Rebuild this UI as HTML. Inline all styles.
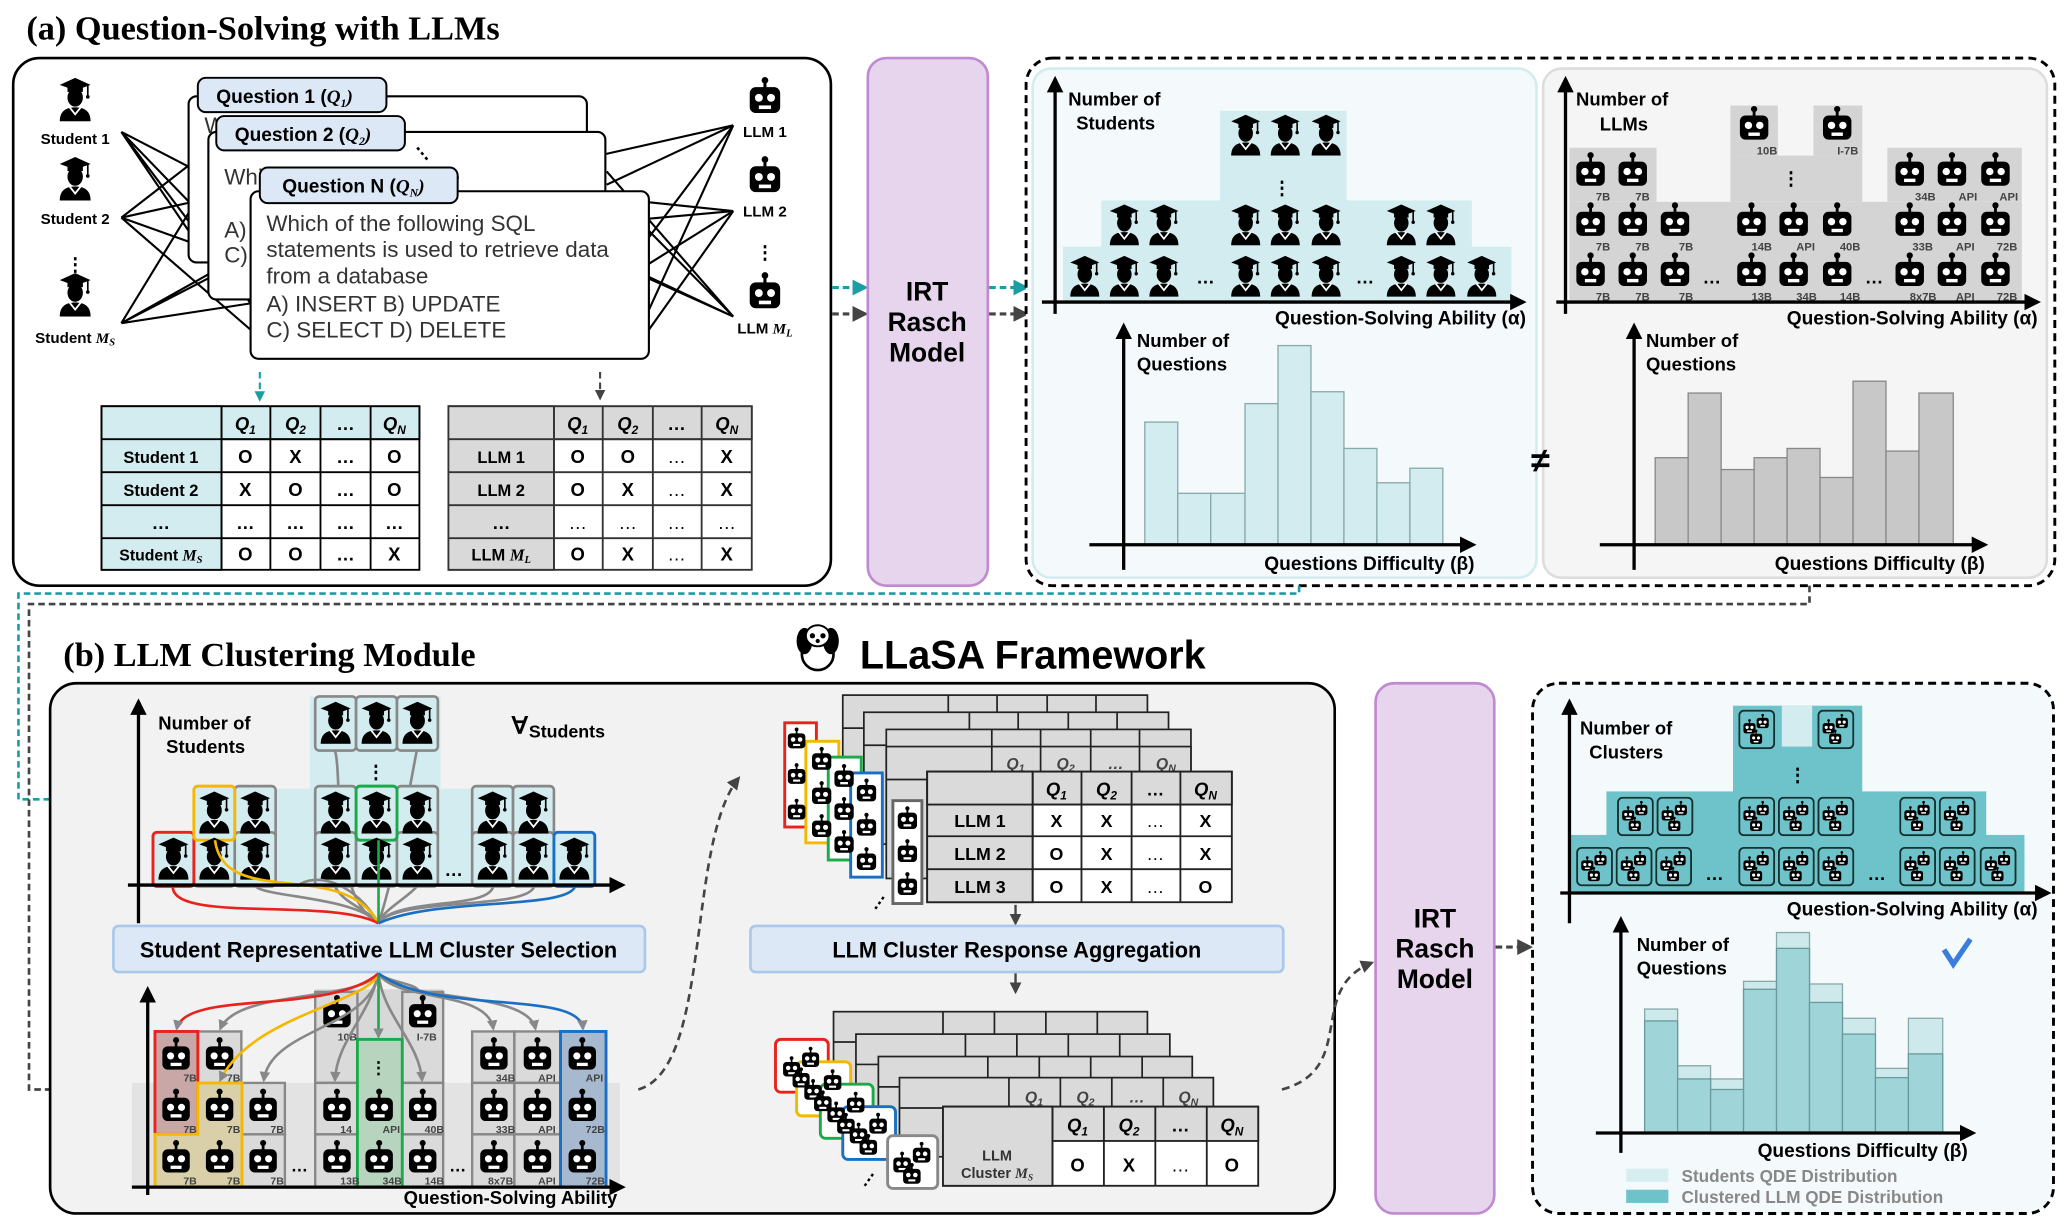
<!DOCTYPE html>
<html><head><meta charset="utf-8"><style>
html,body{margin:0;padding:0;background:#fff}
svg{display:block}
text{font-family:"Liberation Sans",sans-serif}
.b{font-weight:bold}
.sr{font-family:"Liberation Serif",serif;font-weight:bold}
.m{font-family:"Liberation Serif",serif;font-style:italic;font-weight:bold}
</style></head><body>
<svg width="2068" height="1228" viewBox="0 0 1568 931" preserveAspectRatio="none" xmlns="http://www.w3.org/2000/svg">
<defs>
<symbol id="rb" viewBox="0 0 24 26"><circle cx="12" cy="2.5" r="2.2"/><rect x="11" y="3" width="2" height="5"/><rect x="2" y="7" width="20" height="17" rx="4"/><circle cx="8" cy="14" r="2.6" fill="#fff"/><circle cx="16" cy="14" r="2.6" fill="#fff"/><rect x="8" y="19" width="8" height="2.4" fill="#fff"/></symbol>
<symbol id="st" viewBox="0 0 24 32"><polygon points="1,6 12,1 23,6 12,10"/><rect x="6.5" y="7" width="11" height="4"/><line x1="21" y1="6" x2="21" y2="14" stroke="#000" stroke-width="1.2"/><circle cx="21" cy="14.5" r="1.3"/><ellipse cx="12" cy="15" rx="5.5" ry="6.5"/><path d="M1 32 C1 25 5 22 12 22 C19 22 23 25 23 32Z"/><polyline points="8,22 12,27 16,22" fill="none" stroke="#fff" stroke-width="1.3"/></symbol>
<symbol id="cl" viewBox="0 0 28 30"><rect x="0.8" y="0.8" width="26.4" height="28.4" rx="3.5" fill="#6ec3ca" stroke="#13312f" stroke-width="1.4"/><use href="#rb" x="3" y="7" width="11" height="12"/><use href="#rb" x="13" y="3" width="11" height="12"/><use href="#rb" x="8" y="15" width="11" height="12"/></symbol>
<symbol id="cw" viewBox="0 0 28 30"><use href="#rb" x="1" y="8" width="13" height="14"/><use href="#rb" x="13" y="2" width="13" height="14"/><use href="#rb" x="7" y="15" width="13" height="14"/></symbol>
<marker id="at" viewBox="0 0 10 10" refX="8" refY="5" markerWidth="5" markerHeight="5" orient="auto"><path d="M0 0L10 5L0 10z" fill="#1a9ea3"/></marker>
<marker id="ag" viewBox="0 0 10 10" refX="8" refY="5" markerWidth="5" markerHeight="5" orient="auto"><path d="M0 0L10 5L0 10z" fill="#444"/></marker>
<marker id="ak" viewBox="0 0 10 10" refX="8" refY="5" markerWidth="5" markerHeight="5" orient="auto"><path d="M0 0L10 5L0 10z" fill="#000"/></marker>
<marker id="ay" viewBox="0 0 10 10" refX="8" refY="5" markerWidth="4" markerHeight="4" orient="auto"><path d="M0 0L10 5L0 10z" fill="#888"/></marker>
</defs>

<!-- ================= (a) ================= -->
<text x="20" y="30" class="sr" font-size="26">(a) Question-Solving with LLMs</text>
<rect x="10" y="44" width="620" height="400" rx="20" fill="#fff" stroke="#000" stroke-width="2"/>

<!-- crossing lines -->
<g stroke="#000" stroke-width="1.6" fill="none">
<path d="M92 100L150 160M92 100L190 230M92 100L160 200M92 100L150 130"/>
<path d="M92 165L150 120M92 165L190 200M92 165L160 150M92 165L190 250"/>
<path d="M92 245L150 150M92 245L190 190M92 245L160 210M92 245L190 230"/>
<path d="M556 95L460 140M556 95L492 180M556 95L445 120M556 95L492 235"/>
<path d="M556 160L460 150M556 160L492 200M556 160L445 170M556 160L492 250"/>
<path d="M556 240L460 130M556 240L492 210M556 240L445 190M556 240L492 175"/>
</g>

<use href="#st" x="44" y="58" width="26" height="34"/>
<text x="57" y="109" class="b" font-size="11.5" text-anchor="middle">Student 1</text>
<use href="#st" x="44" y="118" width="26" height="34"/>
<text x="57" y="170" class="b" font-size="11.5" text-anchor="middle">Student 2</text>
<text x="57" y="205" class="b" font-size="14" text-anchor="middle">⋮</text>
<use href="#st" x="44" y="206" width="26" height="34"/>
<text x="57" y="260" class="b" font-size="11.5" text-anchor="middle">Student <tspan class="m">M<tspan font-size="8" dy="2">S</tspan></tspan></text>

<use href="#rb" x="566" y="58" width="28" height="30"/>
<text x="580" y="104" class="b" font-size="11.5" text-anchor="middle">LLM 1</text>
<use href="#rb" x="566" y="118" width="28" height="30"/>
<text x="580" y="164" class="b" font-size="11.5" text-anchor="middle">LLM 2</text>
<text x="580" y="196" class="b" font-size="14" text-anchor="middle">⋮</text>
<use href="#rb" x="566" y="206" width="28" height="30"/>
<text x="580" y="253" class="b" font-size="11.5" text-anchor="middle">LLM <tspan class="m">M<tspan font-size="8" dy="2">L</tspan></tspan></text>

<!-- cards -->
<rect x="143" y="73" width="302" height="126" rx="6" fill="#fff" stroke="#000" stroke-width="1.6"/>
<text x="155" y="101" font-size="17" fill="#333">Which DataBase</text>
<rect x="158" y="100" width="301" height="127" rx="6" fill="#fff" stroke="#000" stroke-width="1.6"/>
<text x="170" y="140" font-size="17" fill="#333">Which of the SQL in the</text>
<text x="170" y="180" font-size="17" fill="#333">A)</text>
<text x="170" y="199" font-size="17" fill="#333">C)</text>
<rect x="190" y="145" width="302" height="127" rx="6" fill="#fff" stroke="#000" stroke-width="1.6"/>
<text font-size="17" fill="#333"><tspan x="202" y="175">Which of the following SQL</tspan><tspan x="202" y="195">statements is used to retrieve data</tspan><tspan x="202" y="215">from a database</tspan><tspan x="202" y="236">A)  INSERT  B) UPDATE</tspan><tspan x="202" y="256">C) SELECT  D) DELETE</tspan></text>
<rect x="150" y="59" width="143" height="26" rx="6" fill="#dce8f5" stroke="#000" stroke-width="1.5"/>
<text x="164" y="78" class="b" font-size="14.5">Question 1 (<tspan class="m">Q<tspan font-size="9" dy="3">1</tspan><tspan dy="-3">)</tspan></tspan></text>
<rect x="164" y="88" width="143" height="26" rx="6" fill="#dce8f5" stroke="#000" stroke-width="1.5"/>
<text x="178" y="107" class="b" font-size="14.5">Question 2 (<tspan class="m">Q<tspan font-size="9" dy="3">2</tspan><tspan dy="-3">)</tspan></tspan></text>
<text x="315" y="123" font-size="14" class="b" transform="rotate(-40 318 120)">⋮</text>
<rect x="197" y="127" width="150" height="27" rx="6" fill="#dce8f5" stroke="#000" stroke-width="1.5"/>
<text x="214" y="146" class="b" font-size="14.5">Question N (<tspan class="m">Q<tspan font-size="9" dy="3">N</tspan><tspan dy="-3">)</tspan></tspan></text>

<line x1="197" y1="282" x2="197" y2="303" stroke="#1a9ea3" stroke-width="1.6" stroke-dasharray="5,3" marker-end="url(#at)"/>
<line x1="455" y1="282" x2="455" y2="302" stroke="#444" stroke-width="1.6" stroke-dasharray="5,3" marker-end="url(#ag)"/>

<!-- student table -->
<g stroke="#000" stroke-width="1.4">
<rect x="77" y="308" width="241" height="124" fill="#fff"/>
<rect x="77" y="308" width="241" height="25" fill="#d2ecef"/>
<rect x="77" y="308" width="91" height="124" fill="#d2ecef"/>
<path d="M168 308V432M205 308V432M243 308V432M281 308V432M77 333H318M77 358H318M77 383H318M77 408H318"/>
</g>
<g class="m" font-size="14" text-anchor="middle"><text x="186" y="326">Q<tspan font-size="9" dy="3">1</tspan></text><text x="224" y="326">Q<tspan font-size="9" dy="3">2</tspan></text><text x="299" y="326">Q<tspan font-size="9" dy="3">N</tspan></text></g>
<g font-size="14" text-anchor="middle" class="b">
<text x="262" y="326">…</text>
<text x="122" y="351" font-size="12.5">Student 1</text><text x="186" y="351">O</text><text x="224" y="351">X</text><text x="262" y="351">…</text><text x="299" y="351">O</text>
<text x="122" y="376" font-size="12.5">Student 2</text><text x="186" y="376">X</text><text x="224" y="376">O</text><text x="262" y="376">…</text><text x="299" y="376">O</text>
<text x="122" y="401">…</text><text x="186" y="401">…</text><text x="224" y="401">…</text><text x="262" y="401">…</text><text x="299" y="401">…</text>
<text x="122" y="425" font-size="12">Student <tspan class="m">M<tspan font-size="8" dy="2">S</tspan></tspan></text><text x="186" y="425">O</text><text x="224" y="425">O</text><text x="262" y="425">…</text><text x="299" y="425">X</text>
</g>
<!-- llm table -->
<g stroke="#333" stroke-width="1.4">
<rect x="340" y="308" width="230" height="124" fill="#fff"/>
<rect x="340" y="308" width="230" height="25" fill="#d9d9d9"/>
<rect x="340" y="308" width="80" height="124" fill="#d9d9d9"/>
<path d="M420 308V432M457 308V432M495 308V432M532 308V432M340 333H570M340 358H570M340 383H570M340 408H570"/>
</g>
<g class="m" font-size="14" text-anchor="middle"><text x="438" y="326">Q<tspan font-size="9" dy="3">1</tspan></text><text x="476" y="326">Q<tspan font-size="9" dy="3">2</tspan></text><text x="551" y="326">Q<tspan font-size="9" dy="3">N</tspan></text></g>
<g font-size="14" text-anchor="middle" class="b">
<text x="513" y="326">…</text>
<text x="380" y="351" font-size="12.5">LLM 1</text><text x="438" y="351">O</text><text x="476" y="351">O</text><text x="513" y="351" font-weight="normal">…</text><text x="551" y="351">X</text>
<text x="380" y="376" font-size="12.5">LLM 2</text><text x="438" y="376">O</text><text x="476" y="376">X</text><text x="513" y="376" font-weight="normal">…</text><text x="551" y="376">X</text>
<text x="380" y="401">…</text><text x="438" y="401" font-weight="normal">…</text><text x="476" y="401" font-weight="normal">…</text><text x="513" y="401" font-weight="normal">…</text><text x="551" y="401" font-weight="normal">…</text>
<text x="380" y="425" font-size="12.5">LLM <tspan class="m">M<tspan font-size="8" dy="2">L</tspan></tspan></text><text x="438" y="425">O</text><text x="476" y="425">X</text><text x="513" y="425" font-weight="normal">…</text><text x="551" y="425">X</text>
</g>

<!-- IRT 1 -->
<line x1="631" y1="218" x2="656" y2="218" stroke="#1a9ea3" stroke-width="2.4" stroke-dasharray="5,3" marker-end="url(#at)"/>
<line x1="631" y1="238" x2="656" y2="238" stroke="#444" stroke-width="2.4" stroke-dasharray="5,3" marker-end="url(#ag)"/>
<rect x="658" y="44" width="91" height="400" rx="14" fill="#e6d5ec" stroke="#c08ad0" stroke-width="2"/>
<text x="703" y="228" class="b" font-size="20" text-anchor="middle">IRT</text>
<text x="703" y="251" class="b" font-size="20" text-anchor="middle">Rasch</text>
<text x="703" y="274" class="b" font-size="20" text-anchor="middle">Model</text>
<line x1="750" y1="218" x2="778" y2="218" stroke="#1a9ea3" stroke-width="2.4" stroke-dasharray="5,3" marker-end="url(#at)"/>
<line x1="750" y1="238" x2="778" y2="238" stroke="#444" stroke-width="2.4" stroke-dasharray="5,3" marker-end="url(#ag)"/>

<!-- right dashed panel -->
<rect x="778" y="44" width="780" height="400" rx="20" fill="#fff" stroke="#000" stroke-width="2.2" stroke-dasharray="6,4"/>
<rect x="783" y="52" width="382" height="386" rx="14" fill="#f4fafb" stroke="#d2ecef" stroke-width="2"/>
<rect x="1170" y="52" width="382" height="386" rx="14" fill="#f5f5f5" stroke="#ddd" stroke-width="2"/>

<!-- students hist -->
<rect x="925" y="84" width="96" height="70" fill="#d2ecef"/>
<rect x="835" y="152" width="281" height="36" fill="#d2ecef"/>
<rect x="806" y="187" width="340" height="42" fill="#d2ecef"/>
<g>
<use href="#st" x="932" y="86" width="25" height="32"/><use href="#st" x="962" y="86" width="25" height="32"/><use href="#st" x="993" y="86" width="25" height="32"/>
<use href="#st" x="840" y="154" width="25" height="32"/><use href="#st" x="870" y="154" width="25" height="32"/>
<use href="#st" x="932" y="154" width="25" height="32"/><use href="#st" x="962" y="154" width="25" height="32"/><use href="#st" x="993" y="154" width="25" height="32"/>
<use href="#st" x="1050" y="154" width="25" height="32"/><use href="#st" x="1080" y="154" width="25" height="32"/>
<use href="#st" x="810" y="193" width="25" height="32"/><use href="#st" x="840" y="193" width="25" height="32"/><use href="#st" x="870" y="193" width="25" height="32"/>
<use href="#st" x="932" y="193" width="25" height="32"/><use href="#st" x="962" y="193" width="25" height="32"/><use href="#st" x="993" y="193" width="25" height="32"/>
<use href="#st" x="1050" y="193" width="25" height="32"/><use href="#st" x="1080" y="193" width="25" height="32"/><use href="#st" x="1111" y="193" width="25" height="32"/>
</g>
<text x="972" y="147" class="b" font-size="14" text-anchor="middle">⋮</text>
<text x="914" y="215" class="b" font-size="14" text-anchor="middle">…</text>
<text x="1035" y="215" class="b" font-size="14" text-anchor="middle">…</text>
<line x1="800" y1="238" x2="800" y2="60" stroke="#000" stroke-width="2.5" marker-end="url(#ak)"/>
<line x1="790" y1="229" x2="1155" y2="229" stroke="#000" stroke-width="2.5" marker-end="url(#ak)"/>
<text x="810" y="80" class="b" font-size="14">Number of</text><text x="816" y="98" class="b" font-size="14">Students</text>
<text x="1157" y="246" class="b" font-size="14.5" text-anchor="end">Question-Solving Ability (α)</text>

<g fill="#d2ecef" stroke="#8aa" stroke-width="1">
<rect x="868" y="320" width="25" height="93"/><rect x="893" y="374" width="25" height="39"/><rect x="918" y="374" width="26" height="39"/><rect x="944" y="306" width="25" height="107"/><rect x="969" y="262" width="25" height="151"/><rect x="994" y="297" width="25" height="116"/><rect x="1019" y="340" width="25" height="73"/><rect x="1044" y="366" width="25" height="47"/><rect x="1069" y="355" width="25" height="58"/>
</g>
<line x1="852" y1="432" x2="852" y2="247" stroke="#000" stroke-width="2.5" marker-end="url(#ak)"/>
<line x1="826" y1="413" x2="1117" y2="413" stroke="#000" stroke-width="2.5" marker-end="url(#ak)"/>
<text x="862" y="263" class="b" font-size="14">Number of</text><text x="862" y="281" class="b" font-size="14">Questions</text>
<text x="1118" y="432" class="b" font-size="14.5" text-anchor="end">Questions Difficulty (β)</text>

<text x="1168" y="358" class="b" font-size="26" text-anchor="middle">≠</text>

<!-- LLM hist -->
<g fill="#d4d4d4">
<rect x="1190" y="153" width="343" height="76"/><rect x="1190" y="112" width="66" height="41"/><rect x="1431" y="112" width="102" height="41"/>
<rect x="1312" y="118" width="100" height="35"/><rect x="1312" y="80" width="36" height="38"/><rect x="1375" y="80" width="37" height="38"/>
</g>
<g>
<use href="#rb" x="1317" y="80" width="26" height="28"/><use href="#rb" x="1380" y="80" width="26" height="28"/>
<use href="#rb" x="1193" y="115" width="26" height="28"/><use href="#rb" x="1225" y="115" width="26" height="28"/>
<use href="#rb" x="1435" y="115" width="26" height="28"/><use href="#rb" x="1467" y="115" width="26" height="28"/><use href="#rb" x="1500" y="115" width="26" height="28"/>
<use href="#rb" x="1193" y="153" width="26" height="28"/><use href="#rb" x="1225" y="153" width="26" height="28"/><use href="#rb" x="1257" y="153" width="26" height="28"/>
<use href="#rb" x="1315" y="153" width="26" height="28"/><use href="#rb" x="1347" y="153" width="26" height="28"/><use href="#rb" x="1380" y="153" width="26" height="28"/>
<use href="#rb" x="1435" y="153" width="26" height="28"/><use href="#rb" x="1467" y="153" width="26" height="28"/><use href="#rb" x="1500" y="153" width="26" height="28"/>
<use href="#rb" x="1193" y="191" width="26" height="28"/><use href="#rb" x="1225" y="191" width="26" height="28"/><use href="#rb" x="1257" y="191" width="26" height="28"/>
<use href="#rb" x="1315" y="191" width="26" height="28"/><use href="#rb" x="1347" y="191" width="26" height="28"/><use href="#rb" x="1380" y="191" width="26" height="28"/>
<use href="#rb" x="1435" y="191" width="26" height="28"/><use href="#rb" x="1467" y="191" width="26" height="28"/><use href="#rb" x="1500" y="191" width="26" height="28"/>
</g>
<g class="b" font-size="8.5" fill="#444">
<text x="1332" y="117">10B</text><text x="1393" y="117">I-7B</text>
<text x="1210" y="152">7B</text><text x="1240" y="152">7B</text><text x="1452" y="152">34B</text><text x="1485" y="152">API</text><text x="1516" y="152">API</text>
<text x="1210" y="190">7B</text><text x="1240" y="190">7B</text><text x="1273" y="190">7B</text><text x="1328" y="190">14B</text><text x="1362" y="190">API</text><text x="1395" y="190">40B</text><text x="1450" y="190">33B</text><text x="1483" y="190">API</text><text x="1514" y="190">72B</text>
<text x="1210" y="228">7B</text><text x="1240" y="228">7B</text><text x="1273" y="228">7B</text><text x="1328" y="228">13B</text><text x="1362" y="228">34B</text><text x="1395" y="228">14B</text><text x="1448" y="228">8x7B</text><text x="1483" y="228">API</text><text x="1514" y="228">72B</text>
</g>
<text x="1358" y="140" class="b" font-size="14" text-anchor="middle">⋮</text>
<text x="1298" y="215" class="b" font-size="14" text-anchor="middle">…</text>
<text x="1421" y="215" class="b" font-size="14" text-anchor="middle">…</text>
<line x1="1187" y1="238" x2="1187" y2="60" stroke="#000" stroke-width="2.5" marker-end="url(#ak)"/>
<line x1="1180" y1="229" x2="1545" y2="229" stroke="#000" stroke-width="2.5" marker-end="url(#ak)"/>
<text x="1195" y="80" class="b" font-size="14">Number of</text><text x="1213" y="99" class="b" font-size="14">LLMs</text>
<text x="1545" y="246" class="b" font-size="14.5" text-anchor="end">Question-Solving Ability (α)</text>

<g fill="#c8c8c8" stroke="#888" stroke-width="1">
<rect x="1255" y="347" width="25" height="66"/><rect x="1280" y="298" width="25" height="115"/><rect x="1305" y="356" width="25" height="57"/><rect x="1330" y="347" width="25" height="66"/><rect x="1355" y="340" width="25" height="73"/><rect x="1380" y="362" width="25" height="51"/><rect x="1405" y="289" width="25" height="124"/><rect x="1430" y="342" width="25" height="71"/><rect x="1455" y="298" width="26" height="115"/>
</g>
<line x1="1239" y1="432" x2="1239" y2="247" stroke="#000" stroke-width="2.5" marker-end="url(#ak)"/>
<line x1="1213" y1="413" x2="1505" y2="413" stroke="#000" stroke-width="2.5" marker-end="url(#ak)"/>
<text x="1248" y="263" class="b" font-size="14">Number of</text><text x="1248" y="281" class="b" font-size="14">Questions</text>
<text x="1505" y="432" class="b" font-size="14.5" text-anchor="end">Questions Difficulty (β)</text>

<!-- connectors a→b -->
<path d="M985 444V450H14V606H76" fill="none" stroke="#1a9ea3" stroke-width="2" stroke-dasharray="5,3" marker-end="url(#at)"/>
<path d="M1372 444V458H22V826H78" fill="none" stroke="#444" stroke-width="2" stroke-dasharray="5,3" marker-end="url(#ag)"/>

<!-- ================= (b) ================= -->
<text x="48" y="505" class="sr" font-size="26">(b) LLM Clustering Module</text>
<g transform="translate(604,472)">
<ellipse cx="16" cy="24" rx="12" ry="12" fill="#fff" stroke="#000" stroke-width="2"/>
<ellipse cx="6" cy="14" rx="6" ry="10" fill="#000"/><ellipse cx="26" cy="14" rx="6" ry="10" fill="#000"/>
<ellipse cx="16" cy="10" rx="9" ry="8" fill="#fff" stroke="#000" stroke-width="1.5"/>
<circle cx="12" cy="10" r="2"/><circle cx="20" cy="10" r="2"/><circle cx="16" cy="14" r="1.6"/>
</g>
<text x="652" y="507" class="b" font-size="30">LLaSA Framework</text>

<rect x="38" y="518" width="974" height="402" rx="20" fill="#f2f2f2" stroke="#000" stroke-width="2"/>

<!-- top student chart b -->
<rect x="235" y="528" width="99" height="143" fill="#d2ecef"/>
<rect x="147" y="598" width="273" height="73" fill="#d2ecef"/>
<g fill="none" stroke-width="2">
<path d="M287 700C 250 680 260 590 254 569" stroke="#888"/>
<path d="M287 700C 300 660 310 600 316 569" stroke="#888"/>
</g>
<g fill="#d2ecef" stroke="#888" stroke-width="2">
<rect x="239" y="528" width="31" height="41" rx="3"/><rect x="270" y="528" width="31" height="41" rx="3"/><rect x="301" y="528" width="31" height="41" rx="3"/>
<rect x="178" y="596" width="31" height="41" rx="3"/>
<rect x="239" y="596" width="31" height="41" rx="3"/><rect x="301" y="596" width="31" height="41" rx="3"/>
<rect x="358" y="596" width="31" height="41" rx="3"/><rect x="389" y="596" width="31" height="41" rx="3"/>
<rect x="147" y="631" width="31" height="41" rx="3"/><rect x="178" y="631" width="31" height="41" rx="3"/>
<rect x="239" y="631" width="31" height="41" rx="3"/><rect x="270" y="631" width="31" height="41" rx="3"/><rect x="301" y="631" width="31" height="41" rx="3"/>
<rect x="358" y="631" width="31" height="41" rx="3"/><rect x="389" y="631" width="31" height="41" rx="3"/>
</g>
<rect x="116" y="631" width="31" height="41" rx="3" fill="#d2ecef" stroke="#e8231d" stroke-width="2.2"/>
<rect x="147" y="596" width="31" height="41" rx="3" fill="#d2ecef" stroke="#f5b800" stroke-width="2.2"/>
<rect x="270" y="596" width="31" height="41" rx="3" fill="#d2ecef" stroke="#1aaa4a" stroke-width="2.2"/>
<rect x="420" y="631" width="31" height="41" rx="3" fill="#d2ecef" stroke="#1a6fc4" stroke-width="2.2"/>
<g>
<use href="#st" x="242" y="531" width="25" height="33"/><use href="#st" x="273" y="531" width="25" height="33"/><use href="#st" x="304" y="531" width="25" height="33"/>
<use href="#st" x="150" y="599" width="25" height="33"/><use href="#st" x="181" y="599" width="25" height="33"/>
<use href="#st" x="242" y="599" width="25" height="33"/><use href="#st" x="273" y="599" width="25" height="33"/><use href="#st" x="304" y="599" width="25" height="33"/>
<use href="#st" x="361" y="599" width="25" height="33"/><use href="#st" x="392" y="599" width="25" height="33"/>
<use href="#st" x="119" y="634" width="25" height="33"/><use href="#st" x="150" y="634" width="25" height="33"/><use href="#st" x="181" y="634" width="25" height="33"/>
<use href="#st" x="242" y="634" width="25" height="33"/><use href="#st" x="273" y="634" width="25" height="33"/><use href="#st" x="304" y="634" width="25" height="33"/>
<use href="#st" x="361" y="634" width="25" height="33"/><use href="#st" x="392" y="634" width="25" height="33"/><use href="#st" x="423" y="634" width="25" height="33"/>
</g>
<text x="285" y="590" class="b" font-size="14" text-anchor="middle">⋮</text>
<text x="344" y="664" class="b" font-size="14" text-anchor="middle">…</text>
<g fill="none" stroke-width="2">
<path d="M287 700C270 680 200 680 194 672" stroke="#888"/>
<path d="M287 700C280 690 260 685 254 672" stroke="#888"/>
<path d="M287 700C290 690 310 680 316 672" stroke="#888"/>
<path d="M287 700C300 680 370 690 374 672" stroke="#888"/>
<path d="M287 700C300 680 400 690 405 672" stroke="#888"/>
<path d="M287 700C270 670 240 660 225 672" stroke="#888"/>
<path d="M287 700C260 650 170 690 163 637" stroke="#f5b800"/>
<path d="M287 700C250 680 130 700 131 672" stroke="#e8231d"/>
<path d="M287 700V637" stroke="#1aaa4a"/>
<path d="M287 700C330 680 430 690 436 672" stroke="#1a6fc4"/>
</g>
<line x1="105" y1="700" x2="105" y2="532" stroke="#000" stroke-width="2.5" marker-end="url(#ak)"/>
<line x1="97" y1="671" x2="472" y2="671" stroke="#000" stroke-width="2.5" marker-end="url(#ak)"/>
<text x="120" y="553" class="b" font-size="14">Number of</text><text x="126" y="571" class="b" font-size="14">Students</text>
<text x="388" y="556" class="b" font-size="18">∀</text><text x="401" y="559" class="b" font-size="13.5">Students</text>

<rect x="86" y="702" width="403" height="35" rx="4" fill="#dce8f5" stroke="#a9c8ea" stroke-width="2"/>
<text x="287" y="726" class="b" font-size="16.5" text-anchor="middle">Student Representative LLM Cluster Selection</text>

<!-- bottom llm chart b -->
<rect x="100" y="821" width="370" height="79" fill="#e3e3e3"/>
<rect x="239" y="750" width="97" height="150" fill="#d8d8d8"/>
<g fill="#dadada" stroke="#888" stroke-width="1.8">
<rect x="239" y="752" width="32" height="69"/><rect x="305" y="752" width="31" height="69"/>
<rect x="150" y="782" width="33" height="39"/>
<rect x="183" y="821" width="33" height="39"/><rect x="183" y="860" width="33" height="40"/>
<rect x="239" y="821" width="32" height="39"/><rect x="239" y="860" width="32" height="40"/>
<rect x="305" y="821" width="31" height="39"/><rect x="305" y="860" width="31" height="40"/>
<rect x="358" y="782" width="32" height="39"/><rect x="390" y="782" width="35" height="39"/>
<rect x="358" y="821" width="32" height="39"/><rect x="390" y="821" width="35" height="39"/>
<rect x="358" y="860" width="32" height="40"/><rect x="390" y="860" width="35" height="40"/>
</g>
<rect x="117.5" y="782" width="32.5" height="78" fill="#c9a7a7" stroke="#e8231d" stroke-width="2.2"/>
<path d="M150 821H183.5V900H117.5V860H150Z" fill="#d9cfa8" stroke="#f5b800" stroke-width="2.2"/>
<rect x="271" y="788" width="34" height="112" fill="#b7d4be" stroke="#1aaa4a" stroke-width="2.2"/>
<rect x="425" y="782" width="34.5" height="118" fill="#a7b9cf" stroke="#1a6fc4" stroke-width="2.2"/>
<g>
<use href="#rb" x="243" y="754" width="25" height="27"/><use href="#rb" x="308" y="754" width="25" height="27"/>
<use href="#rb" x="121" y="786" width="25" height="27"/><use href="#rb" x="154" y="786" width="25" height="27"/>
<use href="#rb" x="362" y="786" width="25" height="27"/><use href="#rb" x="395" y="786" width="25" height="27"/><use href="#rb" x="429" y="786" width="25" height="27"/>
<use href="#rb" x="121" y="825" width="25" height="27"/><use href="#rb" x="154" y="825" width="25" height="27"/><use href="#rb" x="187" y="825" width="25" height="27"/>
<use href="#rb" x="243" y="825" width="25" height="27"/><use href="#rb" x="275" y="825" width="25" height="27"/><use href="#rb" x="308" y="825" width="25" height="27"/>
<use href="#rb" x="362" y="825" width="25" height="27"/><use href="#rb" x="395" y="825" width="25" height="27"/><use href="#rb" x="429" y="825" width="25" height="27"/>
<use href="#rb" x="121" y="864" width="25" height="27"/><use href="#rb" x="154" y="864" width="25" height="27"/><use href="#rb" x="187" y="864" width="25" height="27"/>
<use href="#rb" x="243" y="864" width="25" height="27"/><use href="#rb" x="275" y="864" width="25" height="27"/><use href="#rb" x="308" y="864" width="25" height="27"/>
<use href="#rb" x="362" y="864" width="25" height="27"/><use href="#rb" x="395" y="864" width="25" height="27"/><use href="#rb" x="429" y="864" width="25" height="27"/>
</g>
<g class="b" font-size="8" fill="#444">
<text x="256" y="789">10B</text><text x="316" y="789">I-7B</text>
<text x="139" y="820">7B</text><text x="172" y="820">7B</text><text x="376" y="820">34B</text><text x="408" y="820">API</text><text x="444" y="820">API</text>
<text x="139" y="859">7B</text><text x="172" y="859">7B</text><text x="205" y="859">7B</text><text x="258" y="859">14</text><text x="290" y="859">API</text><text x="322" y="859">40B</text><text x="376" y="859">33B</text><text x="408" y="859">API</text><text x="444" y="859">72B</text>
<text x="139" y="898">7B</text><text x="172" y="898">7B</text><text x="205" y="898">7B</text><text x="258" y="898">13B</text><text x="290" y="898">34B</text><text x="322" y="898">14B</text><text x="370" y="898">8x7B</text><text x="408" y="898">API</text><text x="444" y="898">72B</text>
</g>
<text x="287" y="814" class="b" font-size="13" text-anchor="middle">⋮</text>
<text x="227" y="888" class="b" font-size="13" text-anchor="middle">…</text>
<text x="347" y="888" class="b" font-size="13" text-anchor="middle">…</text>
<g fill="none" stroke-width="2">
<path d="M287 738C270 760 180 750 167 780" stroke="#888" marker-end="url(#ay)"/>
<path d="M287 738C280 770 255 790 254 819" stroke="#888" marker-end="url(#ay)"/>
<path d="M287 738C290 770 318 790 320 819" stroke="#888" marker-end="url(#ay)"/>
<path d="M287 738C300 760 370 750 374 780" stroke="#888" marker-end="url(#ay)"/>
<path d="M287 738C300 760 400 750 406 780" stroke="#888" marker-end="url(#ay)"/>
<path d="M287 738C280 780 205 780 200 819" stroke="#888" marker-end="url(#ay)"/>
<path d="M287 738C295 745 315 745 318 752" stroke="#888"/>
<path d="M287 738C280 760 190 770 167 819" stroke="#f5b800" marker-end="url(#ay)"/>
<path d="M287 738C250 770 140 750 134 780" stroke="#e8231d" marker-end="url(#ay)"/>
<path d="M287 738V786" stroke="#1aaa4a" marker-end="url(#ay)"/>
<path d="M287 738C330 770 440 750 442 780" stroke="#1a6fc4" marker-end="url(#ay)"/>
</g>
<line x1="112" y1="906" x2="112" y2="750" stroke="#000" stroke-width="2.5" marker-end="url(#ak)"/>
<line x1="100" y1="900" x2="472" y2="900" stroke="#000" stroke-width="2.5" marker-end="url(#ak)"/>
<text x="468" y="913" class="b" font-size="14" text-anchor="end">Question-Solving Ability</text>

<!-- dashed curves -->
<path d="M484 826C540 810 520 640 560 590" fill="none" stroke="#444" stroke-width="2" stroke-dasharray="6,4" marker-end="url(#ag)"/>
<path d="M972 826C1030 810 990 750 1040 730" fill="none" stroke="#444" stroke-width="2" stroke-dasharray="6,4" marker-end="url(#ag)"/>

<!-- top table stack -->
<g stroke="#222" stroke-width="1.3" fill="#dadada">
<rect x="639" y="527" width="231" height="100"/><path d="M719 527V552M756 527V552M794 527V552M831 527V552M639 552H870"/>
<rect x="655" y="540" width="231" height="100"/><path d="M735 540V565M772 540V565M810 540V565M847 540V565M655 565H886"/>
<rect x="672" y="553" width="231" height="100"/><path d="M752 553V578M789 553V578M827 553V578M864 553V578M672 578H903"/>
<rect x="672" y="566" width="231" height="100"/><path d="M752 566V591M789 566V591M827 566V591M864 566V591M672 591H903"/>
</g>
<g class="m" font-size="12" fill="#444" text-anchor="middle"><text x="770" y="583">Q<tspan font-size="8" dy="2">1</tspan></text><text x="808" y="583">Q<tspan font-size="8" dy="2">2</tspan></text><text x="846" y="583">…</text><text x="884" y="583">Q<tspan font-size="8" dy="2">N</tspan></text></g>
<g stroke="#222" stroke-width="1.4">
<rect x="703" y="585" width="231" height="99" fill="#fff"/>
<rect x="703" y="585" width="231" height="25" fill="#dadada"/>
<rect x="703" y="585" width="80" height="99" fill="#dadada"/>
<path d="M783 585V684M820 585V684M858 585V684M895 585V684M703 610H934M703 634H934M703 659H934"/>
</g>
<g class="m" font-size="14" text-anchor="middle"><text x="801" y="603">Q<tspan font-size="9" dy="3">1</tspan></text><text x="839" y="603">Q<tspan font-size="9" dy="3">2</tspan></text><text x="914" y="603">Q<tspan font-size="9" dy="3">N</tspan></text></g>
<g class="b" font-size="13.5" text-anchor="middle">
<text x="876" y="603">…</text>
<text x="743" y="627">LLM 1</text><text x="801" y="627">X</text><text x="839" y="627">X</text><text x="876" y="627" font-weight="normal">…</text><text x="914" y="627">X</text>
<text x="743" y="652">LLM 2</text><text x="801" y="652">O</text><text x="839" y="652">X</text><text x="876" y="652" font-weight="normal">…</text><text x="914" y="652">X</text>
<text x="743" y="677">LLM 3</text><text x="801" y="677">O</text><text x="839" y="677">X</text><text x="876" y="677" font-weight="normal">…</text><text x="914" y="677">O</text>
</g>
<g fill="#fff" stroke-width="2.2">
<rect x="595" y="548" width="24" height="79" stroke="#e8231d"/>
<rect x="611" y="562" width="25" height="77" stroke="#f5b800"/>
<rect x="628" y="574" width="25" height="78" stroke="#1aaa4a"/>
<rect x="645" y="586" width="24" height="79" stroke="#1a6fc4"/>
<rect x="677" y="607" width="22" height="78" stroke="#666"/>
</g>
<g>
<use href="#rb" x="596" y="551" width="16" height="18"/><use href="#rb" x="596" y="578" width="16" height="18"/><use href="#rb" x="596" y="605" width="16" height="18"/>
<use href="#rb" x="614" y="566" width="18" height="19"/><use href="#rb" x="614" y="592" width="18" height="19"/><use href="#rb" x="614" y="617" width="18" height="19"/>
<use href="#rb" x="631" y="579" width="18" height="19"/><use href="#rb" x="631" y="604" width="18" height="19"/><use href="#rb" x="631" y="629" width="18" height="19"/>
<use href="#rb" x="648" y="590" width="18" height="19"/><use href="#rb" x="648" y="616" width="18" height="19"/><use href="#rb" x="648" y="642" width="18" height="19"/>
<use href="#rb" x="679" y="611" width="18" height="19"/><use href="#rb" x="679" y="636" width="18" height="19"/><use href="#rb" x="679" y="661" width="18" height="19"/>
</g>
<text x="662" y="685" class="b" font-size="13" transform="rotate(35 662 680)">⋮</text>
<line x1="770" y1="686" x2="770" y2="700" stroke="#444" stroke-width="1.8" marker-end="url(#ag)"/>
<rect x="569" y="702" width="404" height="35" rx="4" fill="#dce8f5" stroke="#a9c8ea" stroke-width="2"/>
<text x="771" y="726" class="b" font-size="16.5" text-anchor="middle">LLM Cluster Response Aggregation</text>
<line x1="770" y1="738" x2="770" y2="752" stroke="#444" stroke-width="1.8" marker-end="url(#ag)"/>

<!-- bottom table stack -->
<g stroke="#222" stroke-width="1.3" fill="#dadada">
<rect x="632" y="767" width="238" height="60"/><path d="M715 767V790M754 767V790M793 767V790M832 767V790M632 790H870"/>
<rect x="649" y="784" width="238" height="60"/><path d="M732 784V807M771 784V807M810 784V807M849 784V807M649 807H887"/>
<rect x="666" y="801" width="238" height="60"/><path d="M749 801V824M788 801V824M827 801V824M866 801V824M666 824H904"/>
<rect x="682" y="817" width="238" height="60"/><path d="M765 817V840M804 817V840M843 817V840M882 817V840M682 840H920"/>
</g>
<g class="m" font-size="12" fill="#444" text-anchor="middle"><text x="784" y="836">Q<tspan font-size="8" dy="2">1</tspan></text><text x="823" y="836">Q<tspan font-size="8" dy="2">2</tspan></text><text x="862" y="836">…</text><text x="901" y="836">Q<tspan font-size="8" dy="2">N</tspan></text></g>
<g stroke="#222" stroke-width="1.4">
<rect x="715" y="839" width="239" height="60" fill="#fff"/>
<rect x="715" y="839" width="239" height="26" fill="#dadada"/>
<rect x="715" y="839" width="83" height="60" fill="#dadada"/>
<path d="M798 839V899M837 839V899M876 839V899M915 839V899"/>
</g>
<g class="m" font-size="14" text-anchor="middle"><text x="817" y="858">Q<tspan font-size="9" dy="3">1</tspan></text><text x="856" y="858">Q<tspan font-size="9" dy="3">2</tspan></text><text x="934" y="858">Q<tspan font-size="9" dy="3">N</tspan></text></g>
<g class="b" font-size="14" text-anchor="middle">
<text x="895" y="858">…</text>
<text x="756" y="880" font-size="11" fill="#333">LLM</text>
<text x="756" y="893" font-size="11" fill="#333">Cluster <tspan class="m">M<tspan font-size="7" dy="2">S</tspan></tspan></text>
<text x="817" y="888">O</text><text x="856" y="888">X</text><text x="895" y="888" font-weight="normal">…</text><text x="934" y="888">O</text>
</g>
<g fill="#fff" stroke-width="2.2">
<rect x="588" y="788" width="40" height="40" rx="4" stroke="#e8231d"/>
<rect x="604" y="805" width="41" height="41" rx="4" stroke="#f5b800"/>
<rect x="622" y="822" width="40" height="41" rx="4" stroke="#1aaa4a"/>
<rect x="639" y="839" width="40" height="40" rx="4" stroke="#1a6fc4"/>
<rect x="673" y="861" width="38" height="40" rx="4" stroke="#888"/>
</g>
<g>
<use href="#cw" x="590" y="791" width="36" height="36"/><use href="#cw" x="606" y="808" width="37" height="37"/><use href="#cw" x="624" y="825" width="36" height="37"/><use href="#cw" x="641" y="841" width="36" height="37"/><use href="#cw" x="674" y="863" width="36" height="37"/>
</g>
<text x="654" y="895" class="b" font-size="13" transform="rotate(35 654 890)">⋮</text>

<!-- IRT 2 -->
<rect x="1043" y="518" width="90" height="402" rx="14" fill="#e6d5ec" stroke="#c08ad0" stroke-width="2"/>
<text x="1088" y="703" class="b" font-size="20" text-anchor="middle">IRT</text>
<text x="1088" y="726" class="b" font-size="20" text-anchor="middle">Rasch</text>
<text x="1088" y="749" class="b" font-size="20" text-anchor="middle">Model</text>
<line x1="1134" y1="718" x2="1160" y2="718" stroke="#444" stroke-width="2.4" stroke-dasharray="5,3" marker-end="url(#ag)"/>

<!-- right result panel -->
<rect x="1162" y="518" width="395" height="402" rx="20" fill="#f4fafb" stroke="#000" stroke-width="2.2" stroke-dasharray="6,4"/>
<rect x="1314" y="535" width="98" height="100" fill="#6ec3ca"/>
<rect x="1351" y="535" width="23" height="31" fill="#d2ecef"/>
<rect x="1218" y="600" width="288" height="40" fill="#6ec3ca"/>
<rect x="1191" y="633" width="344" height="44" fill="#6ec3ca"/>
<g>
<use href="#cl" x="1318" y="538" width="28" height="30"/><use href="#cl" x="1378" y="538" width="28" height="30"/>
<use href="#cl" x="1226" y="604" width="28" height="30"/><use href="#cl" x="1256" y="604" width="28" height="30"/>
<use href="#cl" x="1318" y="604" width="28" height="30"/><use href="#cl" x="1348" y="604" width="28" height="30"/><use href="#cl" x="1378" y="604" width="28" height="30"/>
<use href="#cl" x="1440" y="604" width="28" height="30"/><use href="#cl" x="1470" y="604" width="28" height="30"/>
<use href="#cl" x="1195" y="642" width="28" height="30"/><use href="#cl" x="1225" y="642" width="28" height="30"/><use href="#cl" x="1255" y="642" width="28" height="30"/>
<use href="#cl" x="1318" y="642" width="28" height="30"/><use href="#cl" x="1348" y="642" width="28" height="30"/><use href="#cl" x="1378" y="642" width="28" height="30"/>
<use href="#cl" x="1440" y="642" width="28" height="30"/><use href="#cl" x="1470" y="642" width="28" height="30"/><use href="#cl" x="1501" y="642" width="28" height="30"/>
</g>
<text x="1363" y="592" class="b" font-size="14" text-anchor="middle">⋮</text>
<text x="1300" y="667" class="b" font-size="14" text-anchor="middle">…</text>
<text x="1423" y="667" class="b" font-size="14" text-anchor="middle">…</text>
<line x1="1190" y1="700" x2="1190" y2="532" stroke="#000" stroke-width="2.5" marker-end="url(#ak)"/>
<line x1="1183" y1="677" x2="1553" y2="677" stroke="#000" stroke-width="2.5" marker-end="url(#ak)"/>
<text x="1198" y="557" class="b" font-size="14">Number of</text><text x="1205" y="575" class="b" font-size="14">Clusters</text>
<text x="1545" y="694" class="b" font-size="14.5" text-anchor="end">Question-Solving Ability (α)</text>

<g fill="#cde9ec" stroke="#8aa" stroke-width="1">
<rect x="1247" y="765" width="25" height="94"/><rect x="1272" y="808" width="25" height="51"/><rect x="1297" y="818" width="25" height="41"/><rect x="1322" y="744" width="25" height="115"/><rect x="1347" y="707" width="25" height="152"/><rect x="1372" y="746" width="25" height="113"/><rect x="1397" y="772" width="25" height="87"/><rect x="1422" y="810" width="25" height="49"/><rect x="1447" y="772" width="26" height="87"/>
</g>
<g fill="#9fd5d9" stroke="#6a9a9c" stroke-width="1">
<rect x="1247" y="774" width="25" height="85"/><rect x="1272" y="818" width="25" height="41"/><rect x="1297" y="826" width="25" height="33"/><rect x="1322" y="750" width="25" height="109"/><rect x="1347" y="719" width="25" height="140"/><rect x="1372" y="760" width="25" height="99"/><rect x="1397" y="784" width="25" height="75"/><rect x="1422" y="817" width="25" height="42"/><rect x="1447" y="799" width="26" height="60"/>
</g>
<line x1="1229" y1="874" x2="1229" y2="697" stroke="#000" stroke-width="2.5" marker-end="url(#ak)"/>
<line x1="1210" y1="859" x2="1496" y2="859" stroke="#000" stroke-width="2.5" marker-end="url(#ak)"/>
<text x="1241" y="721" class="b" font-size="14">Number of</text><text x="1241" y="739" class="b" font-size="14">Questions</text>
<text x="1492" y="877" class="b" font-size="14.5" text-anchor="end">Questions Difficulty (β)</text>
<path d="M1474 720L1481 731L1494 712" fill="none" stroke="#3b7ddd" stroke-width="4"/>
<rect x="1233" y="886" width="32" height="10" fill="#d6eef0"/>
<text x="1275" y="896" class="b" font-size="13" fill="#888">Students QDE Distribution</text>
<rect x="1233" y="902" width="32" height="10" fill="#6ec3ca"/>
<text x="1275" y="912" class="b" font-size="13" fill="#888">Clustered LLM QDE Distribution</text>
</svg>
</body></html>
